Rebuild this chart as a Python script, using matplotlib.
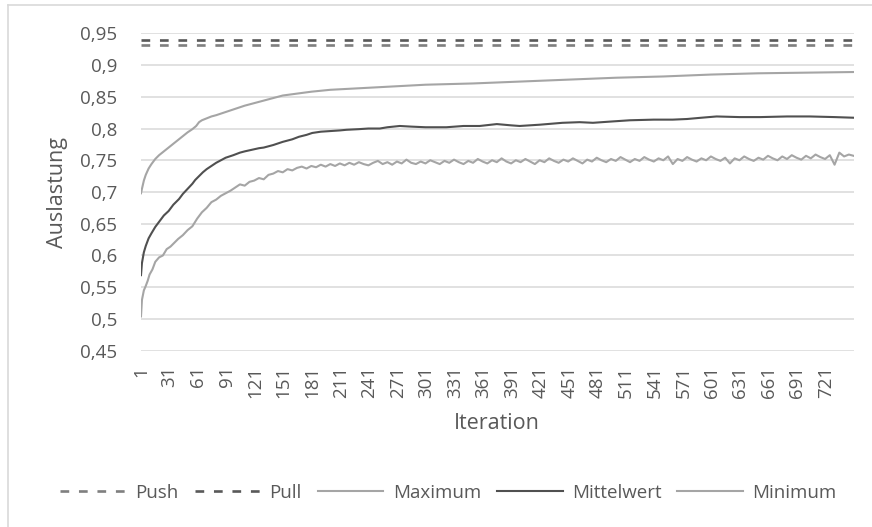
import matplotlib
matplotlib.use('Agg')
from matplotlib import pyplot as plt
from matplotlib.lines import Line2D

plt.rcParams['font.family'] = ['Open Sans', 'DejaVu Sans']

#number of iterations on the category axis
n_iter = 750

#horizontal reference values
push = 0.931
pull = 0.940

#Maximum
it_max = [1, 2, 4, 6, 9, 12, 16, 20, 25, 30, 35, 40, 45, 50, 55, 59, 62, 65, 70, 75,
          80, 90, 100, 110, 120, 130, 140, 150, 160, 170, 180, 200, 225, 250, 275, 300,
          350, 400, 450, 500, 550, 600, 650, 700, 750]
maximum = [0.698, 0.705, 0.718, 0.727, 0.737, 0.744, 0.752, 0.758, 0.764, 0.770, 0.776,
           0.782, 0.788, 0.794, 0.799, 0.804, 0.810, 0.813, 0.816, 0.819, 0.821, 0.826,
           0.831, 0.836, 0.840, 0.844, 0.848, 0.852, 0.854, 0.856, 0.858, 0.861, 0.863,
           0.865, 0.867, 0.869, 0.871, 0.874, 0.877, 0.880, 0.882, 0.885, 0.887, 0.888,
           0.889]

#Mittelwert
it_mean = [1, 2, 4, 6, 9, 12, 16, 20, 25, 30, 35, 41, 45, 50, 55, 58, 62, 66, 70, 75,
           80, 85, 90, 98, 105, 110, 116, 125, 130, 140, 150, 160, 167, 175, 181, 190,
           200, 210, 217, 230, 240, 252, 260, 273, 285, 300, 322, 340, 357, 375, 390,
           399, 420, 444, 462, 476, 495, 515, 540, 560, 575, 590, 606, 630, 652, 680,
           704, 730, 750]
mittelwert = [0.569, 0.588, 0.605, 0.615, 0.627, 0.635, 0.645, 0.653, 0.663, 0.670, 0.680,
              0.689, 0.697, 0.705, 0.713, 0.719, 0.725, 0.731, 0.736, 0.741, 0.746, 0.750,
              0.754, 0.758, 0.762, 0.764, 0.766, 0.769, 0.770, 0.774, 0.779, 0.783, 0.787,
              0.790, 0.793, 0.795, 0.796, 0.797, 0.798, 0.799, 0.800, 0.800, 0.802, 0.804,
              0.803, 0.802, 0.802, 0.804, 0.804, 0.807, 0.805, 0.804, 0.806, 0.809, 0.810,
              0.809, 0.811, 0.813, 0.814, 0.814, 0.815, 0.817, 0.819, 0.818, 0.818, 0.819,
              0.819, 0.818, 0.817]

#Minimum (noisy)
it_min = [1, 2, 4, 6, 8, 10, 13, 16, 20, 24, 28, 32, 36, 40, 45, 50, 55, 60, 65, 70, 75,
          80, 85, 90, 95] + list(range(100, 751, 5))
minimum = [0.504, 0.530, 0.545, 0.552, 0.560, 0.570, 0.578, 0.590, 0.597, 0.600, 0.610,
           0.614, 0.620, 0.626, 0.632, 0.640, 0.646, 0.658, 0.668, 0.675, 0.684, 0.688,
           0.694, 0.698, 0.702,
           0.707, 0.712, 0.710, 0.716, 0.718, 0.722, 0.720, 0.727, 0.729, 0.733, 0.731,
           0.736, 0.734, 0.738, 0.740, 0.737, 0.741, 0.739, 0.743, 0.740, 0.744, 0.741,
           0.745, 0.742, 0.746, 0.743, 0.747, 0.744, 0.742, 0.746, 0.749, 0.744, 0.747,
           0.743, 0.748, 0.745, 0.751, 0.746, 0.744, 0.748, 0.745, 0.750, 0.747, 0.744,
           0.749, 0.746, 0.751, 0.747, 0.744, 0.749, 0.746, 0.752, 0.748, 0.745, 0.750,
           0.747, 0.753, 0.748, 0.745, 0.750, 0.747, 0.752, 0.748, 0.744, 0.750, 0.747,
           0.753, 0.749, 0.746, 0.751, 0.748, 0.753, 0.749, 0.745, 0.751, 0.748, 0.754,
           0.750, 0.747, 0.752, 0.749, 0.755, 0.751, 0.747, 0.752, 0.749, 0.755, 0.751,
           0.748, 0.753, 0.750, 0.756, 0.744, 0.752, 0.749, 0.755, 0.751, 0.748, 0.753,
           0.750, 0.756, 0.752, 0.749, 0.754, 0.745, 0.753, 0.750, 0.756, 0.752, 0.749,
           0.754, 0.751, 0.757, 0.753, 0.750, 0.756, 0.752, 0.758, 0.754, 0.751, 0.757,
           0.753, 0.759, 0.755, 0.752, 0.758, 0.743, 0.762, 0.756, 0.759, 0.757]

#axis ticks
x_ticks = list(range(1, n_iter + 1, 30))
y_ticks = [0.45, 0.5, 0.55, 0.6, 0.65, 0.7, 0.75, 0.8, 0.85, 0.9, 0.95]

text_col = '#595959'
grid_col = '#d9d9d9'

fig = plt.figure(figsize=(8.72, 5.27), dpi=100)
ax = fig.add_axes([141 / 872, 1 - 350.7 / 527, 712.6 / 872, 317.4 / 527])

ax.plot([1, n_iter], [push, push], color='#7f7f7f', lw=1.9, dashes=(3.3, 3.7), label='Push')
ax.plot([1, n_iter], [pull, pull], color='#595959', lw=1.9, dashes=(3.3, 3.7), label='Pull')
ax.plot(it_max, maximum, color='#a5a5a5', lw=1.5, label='Maximum')
ax.plot(it_mean, mittelwert, color='#505050', lw=1.5, label='Mittelwert')
ax.plot(it_min, minimum, color='#a5a5a5', lw=1.5, label='Minimum')

ax.set_xlim(1, n_iter)
ax.set_ylim(0.45, 0.95)
ax.set_yticks(y_ticks)
ax.set_yticklabels([('%g' % v).replace('.', ',') for v in y_ticks])
ax.set_xticks(x_ticks)
ax.set_xticklabels([str(t) for t in x_ticks], rotation=90)
ax.tick_params(axis='both', length=0, colors=text_col, labelsize=13.5)
ax.tick_params(axis='x', pad=11)
ax.tick_params(axis='y', pad=17)

ax.grid(axis='y', color=grid_col, lw=1.1)
ax.set_axisbelow(True)
for s in ax.spines.values():
    s.set_visible(False)

ax.set_ylabel('Auslastung', fontsize=15.5, color=text_col)
ax.set_xlabel('Iteration', fontsize=15.5, color=text_col)
ax.yaxis.set_label_coords(-0.1024, 0.5)
ax.xaxis.set_label_coords(0.5, -0.197)

#legend below the chart
fig.legend(loc='center', bbox_to_anchor=(448.5 / 872, 1 - 493 / 527), ncol=5,
           frameon=False, fontsize=13.5, labelcolor=text_col, handlelength=3.5,
           handletextpad=0.5, columnspacing=0.85, borderpad=0)

#light chart frame (only left and top visible)
fig.add_artist(Line2D([7.5 / 872, 7.5 / 872], [0, 1 - 5 / 527], color=grid_col, lw=1.2))
fig.add_artist(Line2D([7.5 / 872, 1], [1 - 5 / 527, 1 - 5 / 527], color=grid_col, lw=1.2))

fig.savefig('out.png', dpi=100)
